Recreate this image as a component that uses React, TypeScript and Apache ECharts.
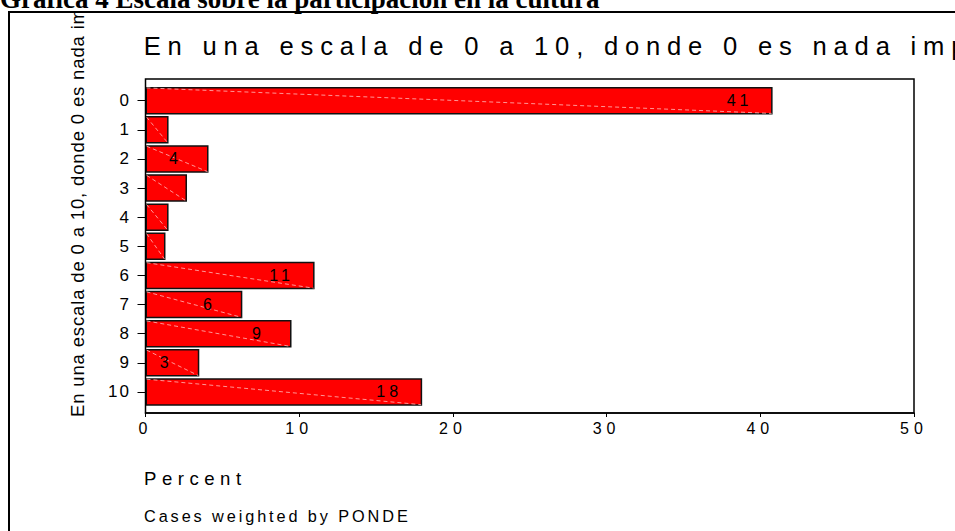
import React, { useEffect, useRef } from 'react';
import * as echarts from 'echarts';

const categories = ['0', '1', '2', '3', '4', '5', '6', '7', '8', '9', '10'];
const percents = [40.8, 1.5, 4.1, 2.7, 1.5, 1.3, 11.0, 6.3, 9.5, 3.5, 18.0];
const barLabels: (string | null)[] = ['41', null, '4', null, null, null, '11', '6', '9', '3', '18'];
const xMin = 0;
const xMax = 50;
const xInterval = 10;
const heading = 'Gráfica 4 Escala sobre la participación en la cultura';
const chartTitle = 'En una escala de 0 a 10, donde 0 es nada imp';
const yTitle = 'En una escala de 0 a 10, donde 0 es nada im';
const xTitle = 'Percent';
const footnote = 'Cases weighted by PONDE';

const SANS = 'Liberation Sans';
const spaced = (px: number, family = SANS) => `${family}; letter-spacing: ${px}px`;

export default function App() {
  const ref = useRef<HTMLDivElement>(null);
  useEffect(() => {
    document.body.style.margin = '0';
    if (!ref.current) return;
    const chart = echarts.init(ref.current, undefined, { renderer: 'svg' });
    const gridLeft = 145.5;
    const gridRight = 914;
    const gridTop = 86.1;
    const gridBottom = 406.5;
    const half = 13.75;
    chart.setOption({
      animation: false,
      backgroundColor: '#ffffff',
      grid: {
        left: gridLeft,
        top: gridTop,
        width: gridRight - gridLeft,
        height: gridBottom - gridTop,
        containLabel: false,
      },
      xAxis: {
        type: 'value',
        min: xMin,
        max: xMax,
        interval: xInterval,
        offset: 6.5,
        axisLine: { show: true, lineStyle: { color: '#000', width: 1.5 } },
        axisTick: { show: true, inside: false, length: 4, lineStyle: { color: '#000', width: 1 } },
        splitLine: { show: false },
        axisLabel: { margin: 10, fontSize: 16, color: '#000', fontFamily: spaced(5) },
      },
      yAxis: {
        type: 'category',
        inverse: true,
        data: categories,
        axisLine: { show: false },
        axisTick: { show: true, alignWithLabel: true, length: 8, lineStyle: { color: '#000', width: 1 } },
        axisLabel: { interval: 0, margin: 14.5, fontSize: 17, color: '#000', fontFamily: spaced(2) },
        splitLine: { show: false },
      },
      series: [
        {
          type: 'bar',
          data: percents,
          barWidth: 27.5,
          itemStyle: { color: '#ff0000', borderColor: '#111', borderWidth: 1.5 },
          z: 2,
        },
        {
          type: 'custom',
          coordinateSystem: 'cartesian2d',
          data: percents.map((v, i) => [v, i]),
          encode: { x: 0, y: 1 },
          z: 5,
          silent: true,
          renderItem: (params: any, api: any) => {
            const v = api.value(0);
            const c = api.value(1);
            const end = api.coord([v, c]);
            const start = api.coord([0, c]);
            const lab = barLabels[params.dataIndex];
            const children: any[] = [
              {
                type: 'line',
                shape: { x1: start[0] + 1, y1: start[1] - half + 1, x2: end[0] - 1, y2: end[1] + half - 1 },
                style: { stroke: 'rgba(255,175,175,0.85)', lineWidth: 1, lineDash: [4, 3] },
              },
            ];
            if (lab) {
              children.push({
                type: 'text',
                x: end[0] - 33,
                y: end[1],
                style: {
                  text: lab,
                  fontSize: 16,
                  fontFamily: spaced(4),
                  fill: '#000',
                  align: 'center',
                  verticalAlign: 'middle',
                },
              });
            }
            return { type: 'group', children };
          },
        },
      ],
      graphic: [
        {
          type: 'rect',
          z: 10,
          silent: true,
          shape: { x: gridLeft, y: 79, width: gridRight - gridLeft, height: 334 },
          style: { fill: 'none', stroke: '#000', lineWidth: 1.5 },
        },
        {
          type: 'text',
          z: 10,
          x: 77,
          y: 417,
          rotation: Math.PI / 2,
          style: {
            text: yTitle,
            fontSize: 18.5,
            fontFamily: spaced(0.85),
            fill: '#000',
            align: 'left',
            verticalAlign: 'middle',
          },
        },
        {
          type: 'rect',
          z: 11,
          silent: true,
          shape: { x: 55, y: -10, width: 45, height: 21 },
          style: { fill: '#fff', stroke: 'none' },
        },
        {
          type: 'text',
          z: 12,
          x: 0,
          y: -1.4,
          style: {
            text: heading,
            fontSize: 27,
            fontWeight: 'bold',
            fontFamily: 'Liberation Serif',
            fill: '#000',
            align: 'left',
            verticalAlign: 'middle',
          },
        },
        {
          type: 'rect',
          z: 12,
          silent: true,
          shape: { x: 9, y: 12, width: 1000, height: 600 },
          style: { fill: 'none', stroke: '#000', lineWidth: 2 },
        },
        {
          type: 'text',
          z: 10,
          x: 143.7,
          y: 46.1,
          style: {
            text: chartTitle,
            fontSize: 25.6,
            fontFamily: spaced(6.8),
            fill: '#000',
            align: 'left',
            verticalAlign: 'middle',
          },
        },
        {
          type: 'text',
          z: 10,
          x: 144,
          y: 478,
          style: {
            text: xTitle,
            fontSize: 18.6,
            fontFamily: spaced(5.5),
            fill: '#000',
            align: 'left',
            verticalAlign: 'middle',
          },
        },
        {
          type: 'text',
          z: 10,
          x: 144,
          y: 516,
          style: {
            text: footnote,
            fontSize: 16.3,
            fontFamily: spaced(2.9),
            fill: '#000',
            align: 'left',
            verticalAlign: 'middle',
          },
        },
      ],
    });
    return () => chart.dispose();
  }, []);
  return <div ref={ref} style={{ width: 955, height: 531 }} />;
}
